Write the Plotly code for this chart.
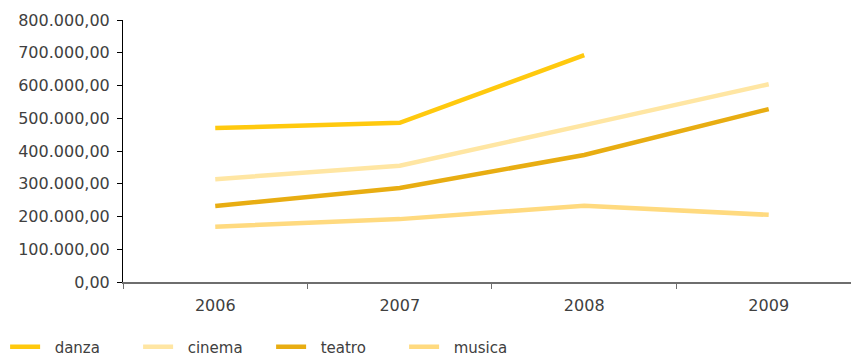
import plotly.graph_objects as go

years = ["2006", "2007", "2008", "2009"]
danza = [470000, 486000, 693000, None]
cinema = [314000, 355000, 479000, 604000]
teatro = [232000, 287000, 388000, 528000]
musica = [169000, 192000, 233000, 205000]

series = [
    ("danza", danza, "#FFC90E"),
    ("cinema", cinema, "#FFE6A3"),
    ("teatro", teatro, "#E8AD12"),
    ("musica", musica, "#FFDA7F"),
]

yticks = [0, 100000, 200000, 300000, 400000, 500000, 600000, 700000, 800000]
ytext = ["0,00", "100.000,00", "200.000,00", "300.000,00", "400.000,00",
         "500.000,00", "600.000,00", "700.000,00", "800.000,00"]

fig = go.Figure()
for name, vals, col in series:
    fig.add_trace(go.Scatter(x=years, y=vals, name="\u00a0\u00a0" + name, mode="lines",
                             line=dict(color=col, width=4.5),
                             connectgaps=False))

font = dict(family="'DejaVu Sans', sans-serif", size=16, color="#404040")

fig.update_layout(
    width=851, height=357,
    margin=dict(l=123, r=0, t=20, b=75),
    paper_bgcolor="white", plot_bgcolor="white",
    font=font,
    showlegend=True,
    legend=dict(orientation="h", xref="container", yref="container",
                x=0.006, xanchor="left", y=0.028, yanchor="middle",
                entrywidth=88, entrywidthmode="pixels",
                font=dict(family="'DejaVu Sans', sans-serif", size=15, color="#404040"),
                itemwidth=30, tracegroupgap=0),
    xaxis=dict(type="category", range=[-0.5, 3.446],
               showline=True, linecolor="#6e6e6e", linewidth=2,
               ticks="outside", tickson="boundaries", ticklen=5, tickcolor="#6e6e6e",
               ticklabelstandoff=8,
               showgrid=False, zeroline=False, tickfont=font),
    yaxis=dict(range=[0, 800000], tickvals=yticks, ticktext=ytext,
               showline=True, linecolor="#000000", linewidth=1,
               ticks="outside", ticklen=5, tickcolor="#000000",
               ticklabelstandoff=4,
               showgrid=False, zeroline=False, tickfont=font),
)

fig.write_html("out.html")
